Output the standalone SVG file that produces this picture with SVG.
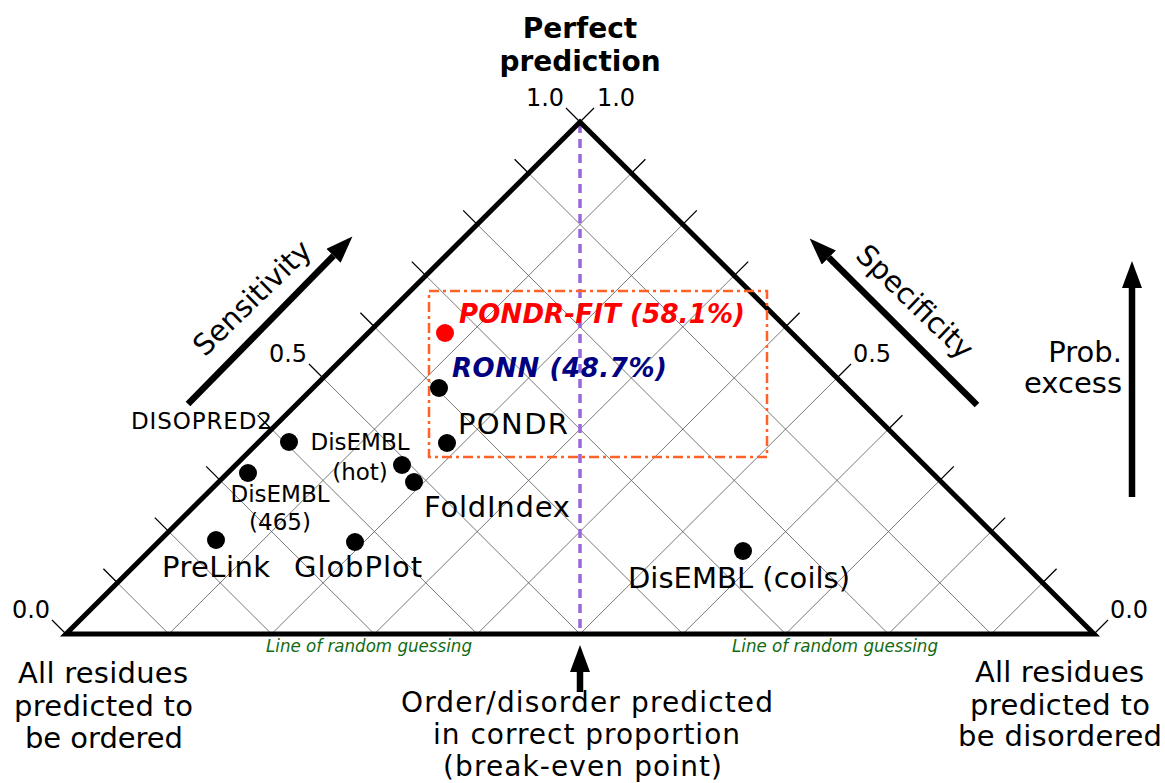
<svg xmlns="http://www.w3.org/2000/svg" width="1165" height="783" viewBox="0 0 1165 783">
  <defs>
    <style>
      text { font-family: "DejaVu Sans", "Open Sans", sans-serif; }
      .big { font-size: 29px; fill: #000; }
      .small { font-size: 23px; fill: #000; }
      .num { font-size: 24px; fill: #000; }
      .title { font-size: 28px; font-weight: bold; fill: #000; }
      .hl { font-size: 26px; font-weight: bold; font-style: italic; }
      .guess { font-size: 17px; font-style: italic; fill: #116b11; }
      .grid { stroke: #555; stroke-width: 0.8; fill: none; }
      .tick { stroke: #000; stroke-width: 1.3; fill: none; }
      .frame { stroke: #000; stroke-width: 5; fill: none; stroke-linejoin: miter; }
      .shaft { stroke: #000; stroke-width: 6.5; fill: none; marker-end: url(#head); }
      .dot { fill: #000; }
    </style>
    <marker id="head" markerUnits="userSpaceOnUse" markerWidth="28" markerHeight="20" refX="0" refY="10" orient="auto">
      <path d="M0,0 L27,10 L0,20 z" fill="#000"/>
    </marker>
  </defs>

  <rect width="1165" height="783" fill="#fff"/>

  <!-- 0.1 grid inside the triangle -->
  <g id="grid">
    <path class="grid" d="M117.4,582.8 L168.8,634 M168.8,531.6 L271.6,634 M220.2,480.4 L374.4,634 M271.6,429.2 L477.2,634 M323,378 L580,634 M374.4,326.8 L682.8,634 M425.8,275.6 L785.6,634 M477.2,224.4 L888.4,634 M528.6,173.2 L991.2,634"/>
    <path class="grid" d="M1042.6,582.8 L991.2,634 M991.2,531.6 L888.4,634 M939.8,480.4 L785.6,634 M888.4,429.2 L682.8,634 M837,378 L580,634 M785.6,326.8 L477.2,634 M734.2,275.6 L374.4,634 M682.8,224.4 L271.6,634 M631.4,173.2 L168.8,634"/>
  </g>

  <!-- break-even line -->
  <line id="break-even" x1="580" y1="124" x2="580" y2="632" stroke="#9966dd" stroke-width="3.5" stroke-dasharray="9,6"/>

  <!-- outer ticks -->
  <g id="ticks">
    <path class="tick" d="M66,634 l-14,-14 M117.4,582.8 l-14,-14 M168.8,531.6 l-14,-14 M220.2,480.4 l-14,-14 M271.6,429.2 l-14,-14 M323,378 l-14,-14 M374.4,326.8 l-14,-14 M425.8,275.6 l-14,-14 M477.2,224.4 l-14,-14 M528.6,173.2 l-14,-14 M580,122 l-14,-14"/>
    <path class="tick" d="M1094,634 l14,-14 M1042.6,582.8 l14,-14 M991.2,531.6 l14,-14 M939.8,480.4 l14,-14 M888.4,429.2 l14,-14 M837,378 l14,-14 M785.6,326.8 l14,-14 M734.2,275.6 l14,-14 M682.8,224.4 l14,-14 M631.4,173.2 l14,-14 M580,122 l14,-14"/>
  </g>

  <!-- triangle frame -->
  <path id="frame" class="frame" d="M66,634 L580,122 L1094,634 Z"/>

  <!-- axis values -->
  <g id="axis-values">
    <text class="num" x="545" y="106" text-anchor="middle">1.0</text>
    <text class="num" x="616" y="106" text-anchor="middle">1.0</text>
    <text class="num" x="288" y="362" text-anchor="middle">0.5</text>
    <text class="num" x="872" y="362" text-anchor="middle">0.5</text>
    <text class="num" x="31" y="618" text-anchor="middle">0.0</text>
    <text class="num" x="1129" y="618" text-anchor="middle">0.0</text>
  </g>

  <g id="title">
    <text class="title" x="580" y="38" text-anchor="middle">Perfect</text>
    <text class="title" x="580" y="71" text-anchor="middle">prediction</text>
  </g>

  <!-- highlight box -->
  <rect id="highlight" x="429" y="291" width="338" height="166" fill="none" stroke="#ff6228" stroke-width="2.5" stroke-dasharray="10,4,3,4"/>

  <!-- predictors -->
  <g id="pondr-fit">
    <circle cx="445" cy="333" r="9" fill="#ff0000"/>
    <text class="hl" x="459" y="323" fill="#ff0000" textLength="286" lengthAdjust="spacing">PONDR-FIT (58.1%)</text>
  </g>
  <g id="ronn">
    <circle class="dot" cx="439" cy="388" r="9"/>
    <text class="hl" x="452" y="377" fill="#000080" textLength="215" lengthAdjust="spacing">RONN (48.7%)</text>
  </g>
  <g id="pondr">
    <circle class="dot" cx="447" cy="443" r="9"/>
    <text class="big" x="458" y="434" textLength="110" lengthAdjust="spacing">PONDR</text>
  </g>
  <g id="disopred2">
    <circle class="dot" cx="289" cy="442" r="9"/>
    <text class="small" x="131" y="429" textLength="141" lengthAdjust="spacing">DISOPRED2</text>
  </g>
  <g id="disembl-hot">
    <circle class="dot" cx="402" cy="465" r="9"/>
    <text class="small" x="360" y="450" text-anchor="middle">DisEMBL</text>
    <text class="small" x="360" y="480" text-anchor="middle">(hot)</text>
  </g>
  <g id="foldindex">
    <circle class="dot" cx="414" cy="482" r="9"/>
    <text class="big" x="424" y="517" textLength="146" lengthAdjust="spacing">FoldIndex</text>
  </g>
  <g id="disembl-465">
    <circle class="dot" cx="248" cy="473" r="9"/>
    <text class="small" x="280" y="502" text-anchor="middle">DisEMBL</text>
    <text class="small" x="280" y="530" text-anchor="middle">(465)</text>
  </g>
  <g id="prelink">
    <circle class="dot" cx="216" cy="540" r="9"/>
    <text class="big" x="162" y="577" textLength="108" lengthAdjust="spacing">PreLink</text>
  </g>
  <g id="globplot">
    <circle class="dot" cx="355" cy="542" r="9"/>
    <text class="big" x="294" y="577" textLength="128" lengthAdjust="spacing">GlobPlot</text>
  </g>
  <g id="disembl-coils">
    <circle class="dot" cx="743" cy="551" r="9"/>
    <text class="big" x="628" y="588" textLength="222" lengthAdjust="spacing">DisEMBL (coils)</text>
  </g>

  <!-- direction arrows -->
  <g id="connectors">
    <line class="shaft" x1="188" y1="404" x2="333.5" y2="255.8"/>
    <line class="shaft" x1="977" y1="405" x2="828.8" y2="257.5"/>
    <line class="shaft" x1="1132" y1="497" x2="1132" y2="288"/>
    <line class="shaft" x1="580" y1="692" x2="580" y2="672"/>
  </g>

  <g id="axis-names">
    <text class="big" transform="translate(259,305) rotate(-44)" text-anchor="middle">Sensitivity</text>
    <text class="big" transform="translate(908,309) rotate(44)" text-anchor="middle">Specificity</text>
    <text class="big" x="1122" y="362" text-anchor="end">Prob.</text>
    <text class="big" x="1122" y="393" text-anchor="end">excess</text>
  </g>

  <g id="guess-labels">
    <text class="guess" x="266" y="652" textLength="206" lengthAdjust="spacingAndGlyphs">Line of random guessing</text>
    <text class="guess" x="732" y="652" textLength="206" lengthAdjust="spacingAndGlyphs">Line of random guessing</text>
  </g>

  <g id="corner-notes">
    <text class="big" x="18" y="683" textLength="170" lengthAdjust="spacing">All residues</text>
    <text class="big" x="14" y="716" textLength="179" lengthAdjust="spacing">predicted to</text>
    <text class="big" x="25" y="748" textLength="158" lengthAdjust="spacing">be ordered</text>
    <text class="big" x="975" y="682" textLength="169" lengthAdjust="spacing">All residues</text>
    <text class="big" x="970" y="715" textLength="180" lengthAdjust="spacing">predicted to</text>
    <text class="big" x="958" y="746" textLength="204" lengthAdjust="spacing">be disordered</text>
  </g>
  <g id="break-even-note">
    <text class="big" style="font-size:28px" x="401" y="712" textLength="372" lengthAdjust="spacing">Order/disorder predicted</text>
    <text class="big" style="font-size:28px" x="433" y="744" textLength="307" lengthAdjust="spacing">in correct proportion</text>
    <text class="big" style="font-size:28px" x="443" y="776" textLength="279" lengthAdjust="spacing">(break-even point)</text>
  </g>
</svg>
